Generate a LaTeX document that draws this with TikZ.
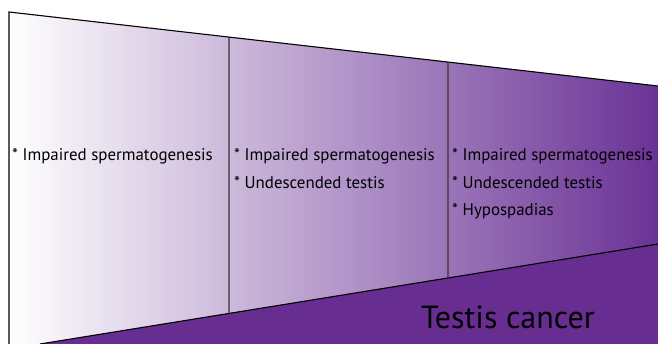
\documentclass[tikz,border=0pt]{standalone}
\usepackage{fontspec}
\setmainfont{PT Sans}
\usetikzlibrary{calc}
\definecolor{deeppurple}{RGB}{103,45,145}
\definecolor{fadepurple}{RGB}{106,50,150}
\begin{document}
\begin{tikzpicture}[x=1pt,y=-1pt,
  edge/.style={draw=black,line width=1.1pt},
  divider/.style={draw=black!80,line width=1.1pt},
  item/.style={anchor=base west,inner sep=0pt,font=\fontsize{16.9}{19}\selectfont},
  title/.style={anchor=base west,inner sep=0pt,font=\fontsize{32}{38}\selectfont}]
  \useasboundingbox (0,0) rectangle (658,344);
  % outline corners
  \coordinate (tl) at (9,12);
  \coordinate (tr) at (658,86);
  \coordinate (bl) at (9,344);
  \coordinate (bs) at (40,344);
  \coordinate (br) at (658,244);
  \coordinate (bre) at (658,344);
  % column dividers on the top and bottom edges
  \coordinate (d1t) at ($(tl)!{220/649}!(tr)$);
  \coordinate (d1b) at ($(bs)!{189/618}!(br)$);
  \coordinate (d2t) at ($(tl)!{439/649}!(tr)$);
  \coordinate (d2b) at ($(bs)!{408/618}!(br)$);
  % graded funnel body
  \shade[left color=white,right color=fadepurple]
    (tl) -- (tr) -- (br) -- (bs) -- (bl) -- cycle;
  % solid wedge at the bottom
  \fill[deeppurple] (bs) -- (br) -- (bre) -- cycle;
  % outline
  \draw[edge] (bl) -- (tl) -- (tr);
  \draw[edge] (bs) -- (br);
  \draw[divider] (d1t) -- (d1b);
  \draw[divider] (d2t) -- (d2b);
  % column texts
  \node[item] (a1) at (12,161) {* Impaired spermatogenesis};
  \node[item] (b1) at (234,161) {* Impaired spermatogenesis};
  \node[item] (b2) at (234,188.5) {* Undescended testis};
  \node[item] (c1) at (452,161) {* Impaired spermatogenesis};
  \node[item] (c2) at (452,188.5) {* Undescended testis};
  \node[item] (c3) at (452,216) {* Hypospadias};
  \node[title] (tc) at (421,328) {Testis cancer};
\end{tikzpicture}
\end{document}
